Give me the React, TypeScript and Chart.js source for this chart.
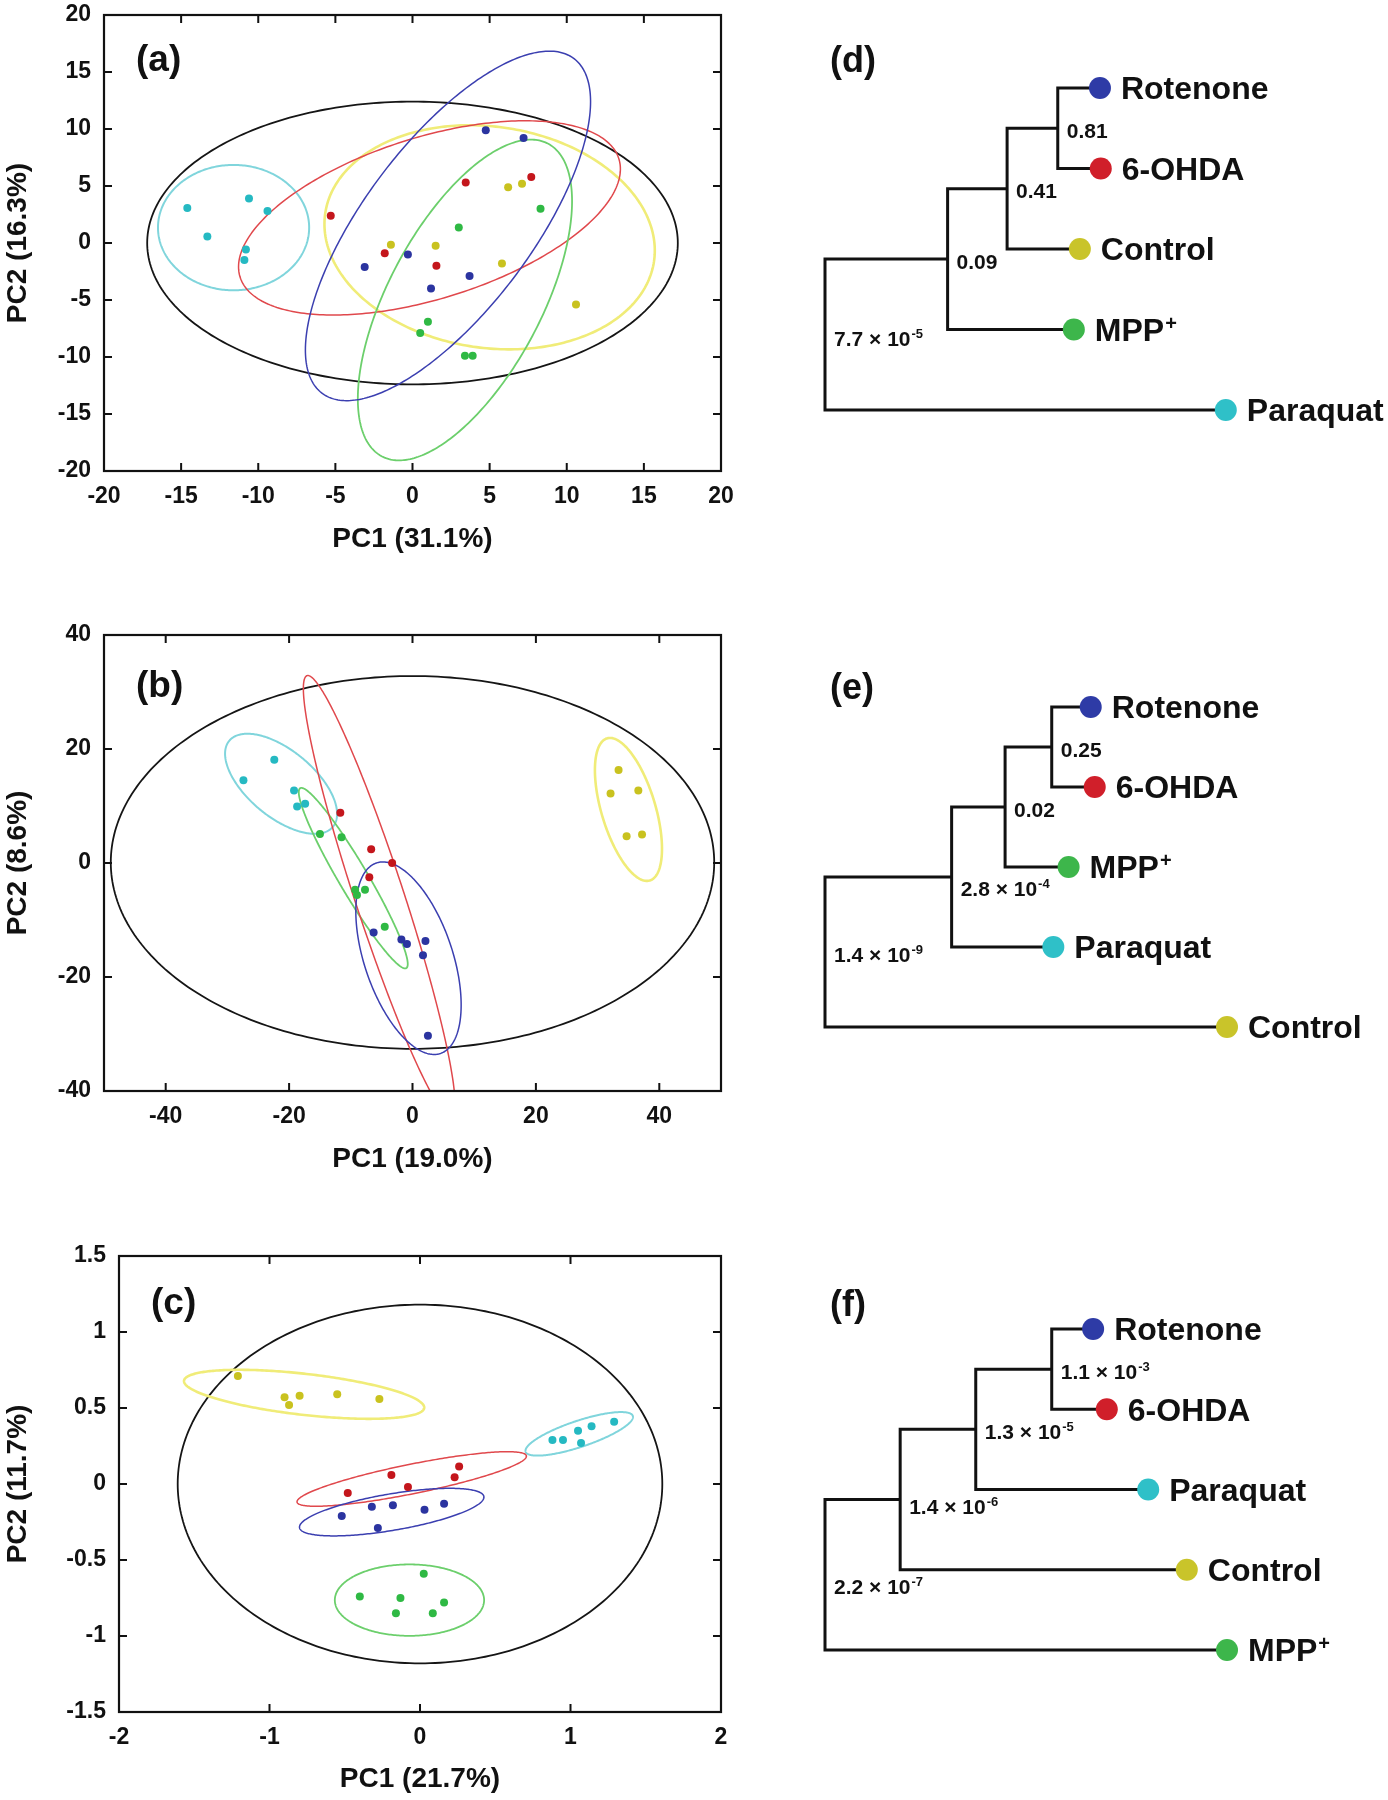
import React, { useEffect, useRef } from 'react';
import { Chart, registerables } from 'chart.js';
Chart.register(...registerables);

const FONT = '"Liberation Sans", Arial, Helvetica, sans-serif';

// ---------------- Panel (a) ----------------
const A_X_TICKS = [-20, -15, -10, -5, 0, 5, 10, 15, 20];
const A_Y_TICKS = [-20, -15, -10, -5, 0, 5, 10, 15, 20];
const A_ROTENONE = [[4.75, 9.9], [7.2, 9.2], [-3.1, -2.1], [-0.3, -1.0], [3.7, -2.9], [1.2, -4.0]];
const A_OHDA = [[-5.3, 2.4], [3.45, 5.3], [7.7, 5.8], [-1.8, -0.9], [1.55, -2.0]];
const A_CONTROL = [[-1.4, -0.16], [1.5, -0.25], [6.2, 4.9], [7.1, 5.2], [5.8, -1.8], [10.6, -5.4]];
const A_MPP = [[8.3, 3.0], [3.0, 1.35], [1.0, -6.9], [0.5, -7.9], [3.4, -9.9], [3.9, -9.9]];
const A_PARAQUAT = [[-14.6, 3.07], [-10.6, 3.9], [-9.4, 2.8], [-13.3, 0.56], [-10.8, -0.56], [-10.9, -1.5]];
// ellipses: [centre x, centre y, semi-axis a, semi-axis b, angle in degrees]
const A_ELL_ALL = [0, 0, 17.2, 12.4, 0];
const A_ELL_PARAQUAT = [-11.6, 1.35, 4.9, 5.5, 0];
const A_ELL_OHDA = [1.1, 2.2, 13.4, 6.8, 26.4];
const A_ELL_CONTROL = [5.0, 0.5, 11.0, 9.5, -27];
const A_ELL_ROTENONE = [2.3, 1.5, 16.9, 5.9, 63.3];
const A_ELL_MPP = [3.4, -5.0, 14.8, 5.2, 70.6];

// ---------------- Panel (b) ----------------
const B_X_TICKS = [-40, -20, 0, 20, 40];
const B_Y_TICKS = [-40, -20, 0, 20, 40];
const B_ROTENONE = [[-6.3, -12.2], [-1.8, -13.4], [-0.9, -14.2], [2.1, -13.7], [1.7, -16.2], [2.5, -30.3]];
const B_OHDA = [[-11.7, 8.8], [-6.7, 2.4], [-3.3, 0.0], [-7.0, -2.5]];
const B_CONTROL = [[33.4, 16.3], [32.1, 12.2], [36.6, 12.7], [34.7, 4.7], [37.2, 5.0]];
const B_MPP = [[-15.0, 5.1], [-11.5, 4.5], [-9.3, -4.7], [-9.0, -5.6], [-7.7, -4.7], [-4.5, -11.2]];
const B_PARAQUAT = [[-27.4, 14.5], [-22.4, 18.1], [-19.2, 12.7], [-18.7, 9.9], [-17.4, 10.4]];
const B_ELL_ALL = [0, 0.1, 48.9, 32.7, 0];
const B_ELL_PARAQUAT = [-21.3, 13.9, 11.3, 5.64, -43.4];
const B_ELL_MPP = [-9.6, -2.66, 17.97, 2.4, -61.5];
const B_ELL_OHDA = [-5.4, -5.8, 40.4, 4.0, 106.8];
const B_ELL_ROTENONE = [-0.65, -16.7, 17.5, 7.2, -73.3];
const B_ELL_CONTROL = [35.0, 9.4, 12.94, 4.4, -74.8];

// ---------------- Panel (c) ----------------
const C_X_TICKS = [-2, -1, 0, 1, 2];
const C_Y_TICKS = [-1.5, -1, -0.5, 0, 0.5, 1, 1.5];
const C_ROTENONE = [[-0.52, -0.21], [-0.32, -0.15], [-0.18, -0.14], [-0.28, -0.29], [0.03, -0.17], [0.16, -0.13]];
const C_OHDA = [[-0.48, -0.06], [-0.19, 0.06], [-0.08, -0.02], [0.23, 0.045], [0.26, 0.115]];
const C_CONTROL = [[-1.21, 0.71], [-0.9, 0.57], [-0.87, 0.52], [-0.8, 0.58], [-0.55, 0.59], [-0.27, 0.56]];
const C_MPP = [[0.025, -0.59], [-0.4, -0.74], [-0.13, -0.75], [-0.16, -0.85], [0.085, -0.85], [0.16, -0.78]];
const C_PARAQUAT = [[0.88, 0.29], [0.95, 0.29], [1.05, 0.35], [1.14, 0.38], [1.07, 0.27], [1.29, 0.41]];
const C_ELL_ALL = [0, 0, 1.61, 1.18, 0];
const C_ELL_CONTROL = [-0.77, 0.59, 0.803, 0.135, -6.4];
const C_ELL_PARAQUAT = [1.058, 0.33, 0.375, 0.086, 18.3];
const C_ELL_OHDA = [-0.055, 0.033, 0.777, 0.097, 11.3];
const C_ELL_ROTENONE = [-0.188, -0.185, 0.621, 0.12, 9.5];
const C_ELL_MPP = [-0.07, -0.764, 0.496, 0.235, 0];

// ---------------- Dendrograms ----------------
// nodes: [child 1, child 2, branch height, p-value label]; children index leaves first, then nodes
const D_LEAVES = ['Rotenone', '6-OHDA', 'Control', 'MPP+', 'Paraquat'];
const D_LEAF_HEIGHTS = [68.4, 68.6, 63.4, 61.9, 99.7];
const D_NODES: [number, number, number, string][] = [
  [0, 1, 57.9, '0.81'], [5, 2, 45.3, '0.41'], [6, 3, 30.5, '0.09'], [7, 4, 0, '7.7 × 10^-5'],
];
const E_LEAVES = ['Rotenone', '6-OHDA', 'MPP+', 'Paraquat', 'Control'];
const E_LEAF_HEIGHTS = [66.1, 67.1, 60.6, 56.8, 100];
const E_NODES: [number, number, number, string][] = [
  [0, 1, 56.4, '0.25'], [5, 2, 44.8, '0.02'], [6, 3, 31.5, '2.8 × 10^-4'], [7, 4, 0, '1.4 × 10^-9'],
];
const F_LEAVES = ['Rotenone', '6-OHDA', 'Paraquat', 'Control', 'MPP+'];
const F_LEAF_HEIGHTS = [66.7, 70.1, 80.4, 90.0, 100];
const F_NODES: [number, number, number, string][] = [
  [0, 1, 56.4, '1.1 × 10^-3'], [5, 2, 37.5, '1.3 × 10^-5'], [6, 3, 18.7, '1.4 × 10^-6'], [7, 4, 0, '2.2 × 10^-7'],
];

// ---------------- Styles ----------------
const DOT: Record<string, string> = {
  Rotenone: '#2b34a0', '6-OHDA': '#c4161c', Control: '#c9c21f', 'MPP+': '#2fb944', Paraquat: '#25b9c2',
};
const RING: Record<string, string> = {
  all: '#151515', Rotenone: '#3b3fb0', '6-OHDA': '#e0484c', Control: '#f0ec78', 'MPP+': '#6ccf6c', Paraquat: '#80d5dc',
};
const RING_W: Record<string, number> = {
  all: 1.8, Rotenone: 1.5, '6-OHDA': 1.5, Control: 2.6, 'MPP+': 1.8, Paraquat: 2,
};
const LEAF_COLOR: Record<string, string> = {
  Rotenone: '#2e3ba6', '6-OHDA': '#d01f2a', Control: '#c9c42a', 'MPP+': '#3db64b', Paraquat: '#2fc0c8',
};

type Ell = { e: number[]; key: string };
type ScatterSpec = {
  label: string; labelDy: number; axisW: number; xAxisH: number; padTop: number; padRight: number;
  xMin: number; xMax: number; yMin: number; yMax: number;
  xTicks: number[]; yTicks: number[]; xTitle: string; yTitle: string;
  groups: { pts: number[][]; key: string }[];
  ellipses: Ell[];
};

function scatterPlugin(s: ScatterSpec) {
  return {
    id: 'pcaDecor',
    beforeDatasetsDraw(chart: any) {
      const { ctx, chartArea: ca, scales } = chart;
      const xs = scales.x, ys = scales.y;
      ctx.save();
      ctx.beginPath();
      ctx.rect(ca.left, ca.top, ca.right - ca.left, ca.bottom - ca.top);
      ctx.clip();
      for (const el of s.ellipses) {
        const [cx, cy, a, b, deg] = el.e;
        const th = (deg * Math.PI) / 180, c = Math.cos(th), sn = Math.sin(th);
        ctx.beginPath();
        const N = 300;
        for (let i = 0; i <= N; i++) {
          const t = (i / N) * Math.PI * 2;
          const u = a * Math.cos(t), v = b * Math.sin(t);
          const px = xs.getPixelForValue(cx + u * c - v * sn);
          const py = ys.getPixelForValue(cy + u * sn + v * c);
          if (i === 0) ctx.moveTo(px, py); else ctx.lineTo(px, py);
        }
        ctx.closePath();
        ctx.strokeStyle = RING[el.key];
        ctx.lineWidth = RING_W[el.key];
        ctx.stroke();
      }
      ctx.restore();
    },
    afterDraw(chart: any) {
      const { ctx, chartArea: ca, scales } = chart;
      const xs = scales.x, ys = scales.y;
      ctx.save();
      ctx.strokeStyle = '#111';
      ctx.lineWidth = 2.2;
      ctx.strokeRect(ca.left, ca.top, ca.right - ca.left, ca.bottom - ca.top);
      ctx.lineWidth = 2;
      const L = 8;
      ctx.beginPath();
      for (const v of s.xTicks) {
        const px = xs.getPixelForValue(v);
        ctx.moveTo(px, ca.bottom); ctx.lineTo(px, ca.bottom - L);
        ctx.moveTo(px, ca.top); ctx.lineTo(px, ca.top + L);
      }
      for (const v of s.yTicks) {
        const py = ys.getPixelForValue(v);
        ctx.moveTo(ca.left, py); ctx.lineTo(ca.left + L, py);
        ctx.moveTo(ca.right, py); ctx.lineTo(ca.right - L, py);
      }
      ctx.stroke();
      ctx.fillStyle = '#111';
      ctx.font = `bold 37px ${FONT}`;
      ctx.textBaseline = 'middle';
      ctx.textAlign = 'left';
      ctx.fillText(s.label, ca.left + 32, ca.top + s.labelDy);
      ctx.restore();
    },
  };
}

function zeroPad(sc: any) {
  sc.paddingTop = 0; sc.paddingBottom = 0; sc.paddingLeft = 0; sc.paddingRight = 0;
}

function scatterConfig(s: ScatterSpec): any {
  const tickFont = { family: FONT, size: 23, weight: 'bold' as const };
  const titleFont = { family: FONT, size: 28, weight: 'bold' as const };
  return {
    type: 'scatter',
    data: {
      datasets: s.groups.map((g) => ({
        data: g.pts.map((p) => ({ x: p[0], y: p[1] })),
        backgroundColor: DOT[g.key],
        borderWidth: 0,
        pointRadius: 4,
        pointHoverRadius: 4,
      })),
    },
    options: {
      animation: false,
      responsive: false,
      events: [],
      layout: { padding: { top: s.padTop, right: s.padRight, left: 0, bottom: 0 } },
      plugins: { legend: { display: false }, tooltip: { enabled: false } },
      scales: {
        x: {
          type: 'linear', min: s.xMin, max: s.xMax,
          afterBuildTicks: (sc: any) => { sc.ticks = s.xTicks.map((v) => ({ value: v })); },
          afterFit: (sc: any) => { sc.height = s.xAxisH; zeroPad(sc); },
          grid: { display: false, drawTicks: false },
          border: { display: false },
          ticks: { font: tickFont, color: '#111', padding: 12, maxRotation: 0, autoSkip: false, callback: (v: any) => String(v) },
          title: { display: true, text: s.xTitle, font: titleFont, color: '#111', padding: { top: 0, bottom: 4 } },
        },
        y: {
          type: 'linear', min: s.yMin, max: s.yMax,
          afterBuildTicks: (sc: any) => { sc.ticks = s.yTicks.map((v) => ({ value: v })); },
          afterFit: (sc: any) => { sc.width = s.axisW; zeroPad(sc); },
          grid: { display: false, drawTicks: false },
          border: { display: false },
          ticks: { font: tickFont, color: '#111', padding: 13, autoSkip: false, callback: (v: any) => String(v) },
          title: { display: true, text: s.yTitle, font: titleFont, color: '#111', padding: { top: 1, bottom: 0 } },
        },
      },
    },
    plugins: [scatterPlugin(s)],
  };
}

const SPEC_A: ScatterSpec = {
  label: '(a)', labelDy: 46, axisW: 104, xAxisH: 89, padTop: 15, padRight: 39,
  xMin: -20, xMax: 20, yMin: -20, yMax: 20, xTicks: A_X_TICKS, yTicks: A_Y_TICKS,
  xTitle: 'PC1 (31.1%)', yTitle: 'PC2 (16.3%)',
  groups: [
    { pts: A_ROTENONE, key: 'Rotenone' }, { pts: A_OHDA, key: '6-OHDA' }, { pts: A_CONTROL, key: 'Control' },
    { pts: A_MPP, key: 'MPP+' }, { pts: A_PARAQUAT, key: 'Paraquat' },
  ],
  ellipses: [
    { e: A_ELL_ALL, key: 'all' }, { e: A_ELL_PARAQUAT, key: 'Paraquat' }, { e: A_ELL_CONTROL, key: 'Control' },
    { e: A_ELL_OHDA, key: '6-OHDA' }, { e: A_ELL_MPP, key: 'MPP+' }, { e: A_ELL_ROTENONE, key: 'Rotenone' },
  ],
};
const SPEC_B: ScatterSpec = {
  label: '(b)', labelDy: 52, axisW: 104, xAxisH: 89, padTop: 15, padRight: 39,
  xMin: -50, xMax: 50, yMin: -40, yMax: 40, xTicks: B_X_TICKS, yTicks: B_Y_TICKS,
  xTitle: 'PC1 (19.0%)', yTitle: 'PC2 (8.6%)',
  groups: [
    { pts: B_ROTENONE, key: 'Rotenone' }, { pts: B_OHDA, key: '6-OHDA' }, { pts: B_CONTROL, key: 'Control' },
    { pts: B_MPP, key: 'MPP+' }, { pts: B_PARAQUAT, key: 'Paraquat' },
  ],
  ellipses: [
    { e: B_ELL_ALL, key: 'all' }, { e: B_ELL_PARAQUAT, key: 'Paraquat' }, { e: B_ELL_CONTROL, key: 'Control' },
    { e: B_ELL_MPP, key: 'MPP+' }, { e: B_ELL_OHDA, key: '6-OHDA' }, { e: B_ELL_ROTENONE, key: 'Rotenone' },
  ],
};
const SPEC_C: ScatterSpec = {
  label: '(c)', labelDy: 48, axisW: 119, xAxisH: 88, padTop: 16, padRight: 39,
  xMin: -2, xMax: 2, yMin: -1.5, yMax: 1.5, xTicks: C_X_TICKS, yTicks: C_Y_TICKS,
  xTitle: 'PC1 (21.7%)', yTitle: 'PC2 (11.7%)',
  groups: [
    { pts: C_ROTENONE, key: 'Rotenone' }, { pts: C_OHDA, key: '6-OHDA' }, { pts: C_CONTROL, key: 'Control' },
    { pts: C_MPP, key: 'MPP+' }, { pts: C_PARAQUAT, key: 'Paraquat' },
  ],
  ellipses: [
    { e: C_ELL_ALL, key: 'all' }, { e: C_ELL_CONTROL, key: 'Control' }, { e: C_ELL_PARAQUAT, key: 'Paraquat' },
    { e: C_ELL_OHDA, key: '6-OHDA' }, { e: C_ELL_ROTENONE, key: 'Rotenone' }, { e: C_ELL_MPP, key: 'MPP+' },
  ],
};

type DendroSpec = {
  label: string; labelY: number; padTop: number; padBottom: number;
  leaves: string[]; heights: number[]; nodes: [number, number, number, string][]; labelDy: number[];
};

function drawSupText(ctx: any, text: string, x: number, yMid: number, size: number, supSize: number, supRaise: number) {
  let main = text, sup = '';
  const caret = text.indexOf('^');
  if (caret >= 0) { main = text.slice(0, caret); sup = text.slice(caret + 1); }
  else if (text.endsWith('+')) { main = text.slice(0, -1); sup = '+'; }
  ctx.textBaseline = 'alphabetic';
  ctx.textAlign = 'left';
  const base = yMid + size * 0.716 / 2;
  ctx.font = `bold ${size}px ${FONT}`;
  ctx.fillText(main, x, base);
  if (sup) {
    const w = ctx.measureText(main).width;
    ctx.font = `bold ${supSize}px ${FONT}`;
    ctx.fillText(sup, x + w + 1, base - supRaise);
  }
}

function dendroConfig(d: DendroSpec): any {
  const pos = d.heights.map((h, i) => ({ x: h, y: i }));
  const branchSets: any[] = [];
  const nodePos: { x: number; y: number }[] = [];
  d.nodes.forEach(([c1, c2, h]) => {
    const a = pos[c1], b = pos[c2];
    branchSets.push({
      data: [{ x: a.x, y: a.y }, { x: h, y: a.y }, { x: h, y: b.y }, { x: b.x, y: b.y }],
      showLine: true, borderColor: '#111', borderWidth: 3, pointRadius: 0, pointHoverRadius: 0,
      clip: false, tension: 0, borderJoinStyle: 'miter', fill: false,
    });
    const p = { x: h, y: (a.y + b.y) / 2 };
    pos.push(p);
    nodePos.push(p);
  });
  const leafSet = {
    data: d.heights.map((h, i) => ({ x: h, y: i })),
    backgroundColor: d.leaves.map((l) => LEAF_COLOR[l]),
    borderWidth: 0, pointRadius: 11, pointHoverRadius: 11, clip: false,
  };
  const plugin = {
    id: 'dendroText',
    afterDraw(chart: any) {
      const { ctx, scales } = chart;
      const xs = scales.x, ys = scales.y;
      ctx.save();
      ctx.fillStyle = '#111';
      d.leaves.forEach((name, i) => {
        const px = xs.getPixelForValue(d.heights[i]) + 21;
        const py = ys.getPixelForValue(i);
        drawSupText(ctx, name, px, py, 32, 20, 11);
      });
      d.nodes.forEach((n, i) => {
        const np = nodePos[i];
        const px = xs.getPixelForValue(np.x) + 9;
        const py = ys.getPixelForValue(np.y) + 2 + d.labelDy[i];
        drawSupText(ctx, n[3], px, py, 21, 13, 8);
      });
      ctx.font = `bold 36px ${FONT}`;
      ctx.textBaseline = 'middle';
      ctx.textAlign = 'left';
      ctx.fillText(d.label, 30, d.labelY);
      ctx.restore();
    },
  };
  return {
    type: 'scatter',
    data: { datasets: [leafSet, ...branchSets] },
    options: {
      animation: false,
      responsive: false,
      events: [],
      layout: { padding: { top: d.padTop, bottom: d.padBottom, left: 25, right: 161 } },
      plugins: { legend: { display: false }, tooltip: { enabled: false } },
      scales: {
        x: { type: 'linear', min: 0, max: 100, display: false },
        y: { type: 'linear', min: 0, max: d.leaves.length - 1, reverse: true, display: false },
      },
    },
    plugins: [plugin],
  };
}

const SPEC_D: DendroSpec = {
  label: '(d)', labelY: 62, padTop: 88, padBottom: 50,
  leaves: D_LEAVES, heights: D_LEAF_HEIGHTS, nodes: D_NODES, labelDy: [0, 0, 0, 2],
};
const SPEC_E: DendroSpec = {
  label: '(e)', labelY: 69, padTop: 87, padBottom: 53,
  leaves: E_LEAVES, heights: E_LEAF_HEIGHTS, nodes: E_NODES, labelDy: [0, 0, 9, 0],
};
const SPEC_F: DendroSpec = {
  label: '(f)', labelY: 66, padTop: 89, padBottom: 50,
  leaves: F_LEAVES, heights: F_LEAF_HEIGHTS, nodes: F_NODES, labelDy: [0, 0, 5, 10],
};

function ChartBox({ make, left, top, width, height }: { make: () => any; left: number; top: number; width: number; height: number }) {
  const ref = useRef<HTMLCanvasElement>(null);
  useEffect(() => {
    const chart = new Chart(ref.current as HTMLCanvasElement, make());
    return () => chart.destroy();
  }, []);
  return (
    <canvas
      ref={ref}
      width={width}
      height={height}
      style={{ position: 'absolute', left, top, width, height }}
    />
  );
}

export default function App() {
  useEffect(() => {
    document.body.style.margin = '0';
    document.body.style.background = '#ffffff';
  }, []);
  return (
    <div style={{ position: 'relative', width: 1388, height: 1800, background: '#ffffff', overflow: 'hidden' }}>
      <ChartBox make={() => scatterConfig(SPEC_A)} left={0} top={0} width={760} height={560} />
      <ChartBox make={() => scatterConfig(SPEC_B)} left={0} top={620} width={760} height={560} />
      <ChartBox make={() => scatterConfig(SPEC_C)} left={0} top={1240} width={760} height={560} />
      <ChartBox make={() => dendroConfig(SPEC_D)} left={800} top={0} width={588} height={460} />
      <ChartBox make={() => dendroConfig(SPEC_E)} left={800} top={620} width={588} height={460} />
      <ChartBox make={() => dendroConfig(SPEC_F)} left={800} top={1240} width={588} height={460} />
    </div>
  );
}
